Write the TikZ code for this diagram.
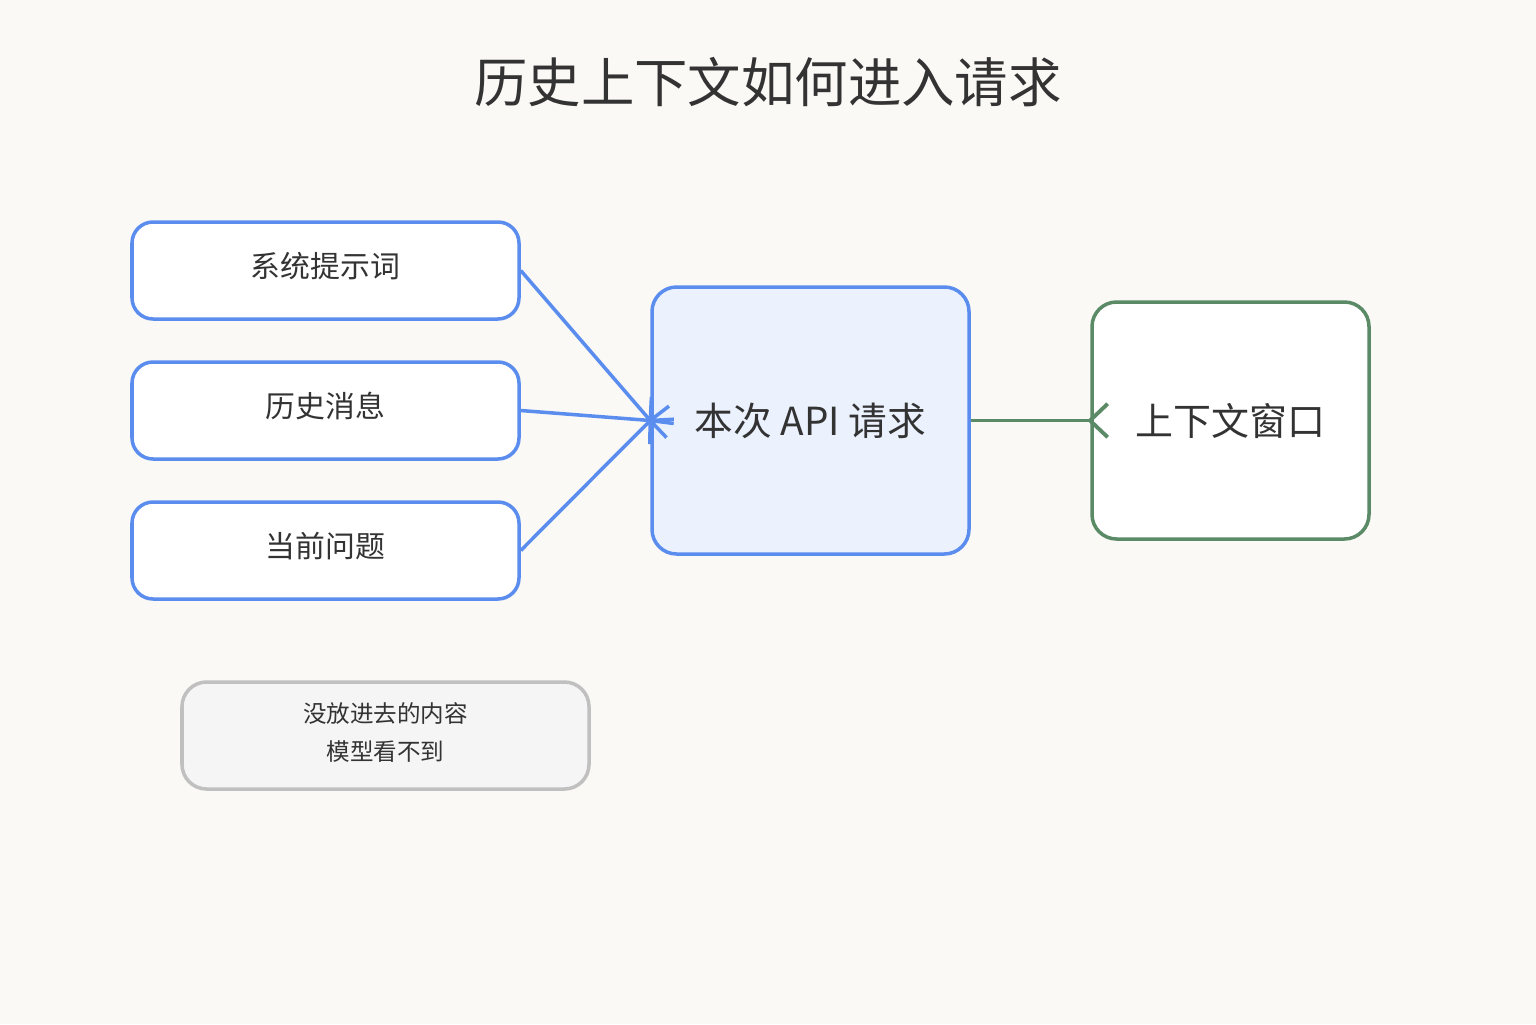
\documentclass[tikz,border=0pt]{standalone}
\usepackage{fontspec}
\setmainfont{Noto Sans CJK SC}
\usetikzlibrary{arrows.meta}
\definecolor{paper}{HTML}{FAF9F6}
\definecolor{reqblue}{HTML}{5B8DEF}
\definecolor{reqfill}{HTML}{EBF2FE}
\definecolor{wingreen}{HTML}{5A8A66}
\definecolor{notegray}{HTML}{C0C0C0}
\definecolor{notefill}{HTML}{F5F5F5}
\definecolor{ink}{HTML}{333333}

\begin{document}
\begin{tikzpicture}[
  part/.style={draw=reqblue,fill=white,line width=1pt,rounded corners=6pt,
    minimum width=3.87cm,minimum height=0.97cm,text=ink,text depth=3.2pt,
    font=\fontsize{8.5}{10}\selectfont},
  link/.style={reqblue,line width=1pt,
    -{Straight Barb[reversed,length=5pt,width=9pt]},shorten >=-5.5pt},
]

\fill[paper] (0,0) rectangle (15.36,-10.24);
\useasboundingbox (0,0) rectangle (15.36,-10.24);

\node[text=ink,font=\fontsize{15.2}{17}\selectfont] (title) at (7.68,-0.82) {历史上下文如何进入请求};

% inputs
\node[part] (sys)  at (3.255,-2.705) {系统提示词};
\node[part] (hist) at (3.255,-4.105) {历史消息};
\node[part] (cur)  at (3.255,-5.505) {当前问题};

% request and window
\node[draw=reqblue,fill=reqfill,line width=1pt,rounded corners=7pt,
  minimum width=3.17cm,minimum height=2.67cm,text=ink,
  font=\fontsize{11}{12}\selectfont] (api) at (8.105,-4.205) {本次 API 请求};
\node[draw=wingreen,fill=white,line width=1pt,rounded corners=7pt,
  minimum width=2.77cm,minimum height=2.37cm,text=ink,
  font=\fontsize{10.8}{12}\selectfont] (win) at (12.305,-4.205) {上下文窗口};

\draw[link] (sys.east) -- (api.west);
\draw[link] (hist.east) -- (api.west);
\draw[link] (cur.east) -- (api.west);
\draw[wingreen,line width=1.1pt,
  -{Straight Barb[reversed,length=5pt,width=9.5pt]},shorten >=-5.5pt] (api.east) -- (win.west);

% note
\node[draw=notegray,fill=notefill,line width=1pt,rounded corners=7pt,
  minimum width=4.07cm,minimum height=1.07cm,text=ink,align=center,
  font=\fontsize{6.7}{10.8}\selectfont] (note) at (3.855,-7.355) {没放进去的内容\\模型看不到\rule[-2.2pt]{0pt}{0pt}};

\end{tikzpicture}
\end{document}
